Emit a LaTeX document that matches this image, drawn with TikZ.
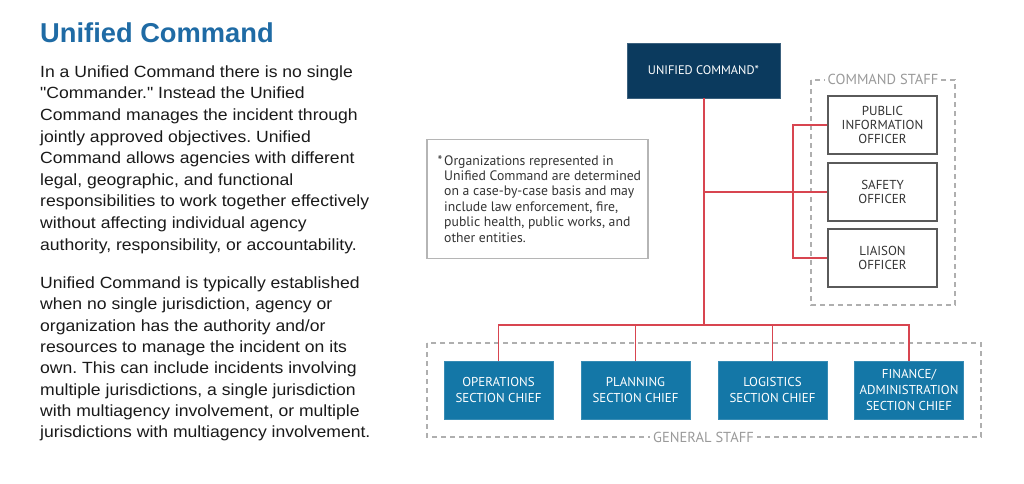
\documentclass[tikz,border=0pt]{standalone}
\usepackage{fontspec}
\setmainfont{Liberation Sans}[Ligatures=TeXOff]
\newfontfamily\bodyfont[Ligatures=TeXOff,FakeStretch=1.085]{Liberation Sans}
\newfontfamily\diag{PT Sans}
\definecolor{titleblue}{HTML}{1F6BA5}
\definecolor{bodytext}{HTML}{1A1A1A}
\definecolor{navy}{HTML}{0B3A5E}
\definecolor{secblue}{HTML}{1477A7}
\definecolor{linkred}{HTML}{D84550}
\definecolor{dashgray}{HTML}{AFAFAF}
\definecolor{labelgray}{HTML}{9A9A9A}
\definecolor{boxgray}{HTML}{5A5A5A}
\definecolor{notegray}{HTML}{B5B5B5}
\definecolor{stafftext}{HTML}{333333}
\frenchspacing
\begin{document}
\begin{tikzpicture}[x=1pt,y=-1pt,
  bodyline/.style={anchor=base west,inner sep=0pt,text=bodytext,font=\bodyfont\fontsize{16.2}{19}\selectfont\frenchspacing},
  noteline/.style={anchor=base west,inner sep=0pt,text=stafftext,font=\diag\fontsize{13.7}{15}\selectfont},
  ucbox/.style={rectangle,fill=navy,draw=navy!80!white,minimum width=153pt,minimum height=55pt,inner sep=0pt,text=white,font=\diag\fontsize{12.4}{14}\selectfont},
  staffbox/.style={rectangle,draw=boxgray,line width=1.2pt,fill=white,minimum width=109pt,minimum height=58pt,inner sep=0pt,align=center,text=stafftext,font=\diag\fontsize{13}{14.4}\selectfont},
  secbox/.style={rectangle,fill=secblue,draw=secblue!85!white,minimum width=109pt,minimum height=58pt,inner sep=0pt,align=center,text=white,font=\diag\fontsize{12.9}{15.6}\selectfont},
  grouplabel/.style={fill=white,inner sep=3pt,text=labelgray,font=\diag\fontsize{14.5}{15}\selectfont},
  groupbox/.style={draw=dashgray,line width=1.1pt,dash pattern=on 5pt off 4pt},
  link/.style={draw=linkred,line width=1.6pt}]
\useasboundingbox (0,0) rectangle (1024,483);
\fill[white] (0,0) rectangle (1024,483);

% ---- left text ----
\node[anchor=base west,inner sep=0pt,text=titleblue,font=\bfseries\fontsize{27.3}{32}\selectfont] (title) at (40,42) {Unified Command};
\node[bodyline] (p1) at (40,77.3) {In a Unified Command there is no single};
\node[bodyline] (p2) at (40,98.9) {"Commander." Instead the Unified};
\node[bodyline] (p3) at (40,120.5) {Command manages the incident through};
\node[bodyline] (p4) at (40,142.1) {jointly approved objectives. Unified};
\node[bodyline] (p5) at (40,163.7) {Command allows agencies with different};
\node[bodyline] (p6) at (40,185.3) {legal, geographic, and functional};
\node[bodyline] (p7) at (40,206.9) {responsibilities to work together effectively};
\node[bodyline] (p8) at (40,228.5) {without affecting individual agency};
\node[bodyline] (p9) at (40,250.1) {authority, responsibility, or accountability.};
\node[bodyline] (q1) at (40,288.3) {Unified Command is typically established};
\node[bodyline] (q2) at (40,309.6) {when no single jurisdiction, agency or};
\node[bodyline] (q3) at (40,331.0) {organization has the authority and/or};
\node[bodyline] (q4) at (40,352.3) {resources to manage the incident on its};
\node[bodyline] (q5) at (40,373.7) {own. This can include incidents involving};
\node[bodyline] (q6) at (40,395.0) {multiple jurisdictions, a single jurisdiction};
\node[bodyline] (q7) at (40,416.4) {with multiagency involvement, or multiple};
\node[bodyline] (q8) at (40,437.7) {jurisdictions with multiagency involvement.};

% ---- group boxes ----
\draw[groupbox] (811,80) rectangle (955,305);
\node[grouplabel] (cslabel) at (883,79) {COMMAND STAFF};
\draw[groupbox] (427,343) rectangle (981,437);
\node[grouplabel] (gslabel) at (703.5,437) {GENERAL STAFF};

% ---- note box ----
\draw[draw=notegray,line width=1.3pt,fill=white] (427,139.5) rectangle (648,258.5);
\node[noteline] (star) at (437.5,165) {*};
\node[noteline] (n1) at (444,165) {Organizations represented in};
\node[noteline] (n2) at (444,180.4) {Unified Command are determined};
\node[noteline] (n3) at (444,195.8) {on a case-by-case basis and may};
\node[noteline] (n4) at (444,211.2) {include law enforcement, fire,};
\node[noteline] (n5) at (444,226.6) {public health, public works, and};
\node[noteline] (n6) at (444,242) {other entities.};

% ---- boxes ----
\node[ucbox] (uc) at (703.5,70.5) {UNIFIED COMMAND*};
\node[staffbox] (pio) at (882.5,125) {PUBLIC\\INFORMATION\\OFFICER};
\node[staffbox] (safety) at (882.5,192) {SAFETY\\OFFICER};
\node[staffbox] (liaison) at (882.5,258) {LIAISON\\OFFICER};
\node[secbox] (ops) at (498.5,390) {OPERATIONS\\SECTION CHIEF};
\node[secbox] (plan) at (635.5,390) {PLANNING\\SECTION CHIEF};
\node[secbox] (logi) at (772.5,390) {LOGISTICS\\SECTION CHIEF};
\node[secbox] (fin) at (909,390) {FINANCE/\\ADMINISTRATION\\SECTION CHIEF};

% ---- connectors ----
\coordinate (bus) at (704,325);
\coordinate (cmdbus) at (704,192);
\coordinate (cbtop) at (793,125);
\coordinate (cbbot) at (793,258);
\draw[link] (uc.south -| bus) -- (bus);
\draw[link] (cmdbus) -- (safety.west);
\draw[link] (pio.west) -- (cbtop) -- (cbbot) -- (liaison.west);
\draw[link] (ops.north) -- (ops.north |- bus) -- (fin.north |- bus) -- (fin.north);
\draw[link] (plan.north) -- (plan.north |- bus);
\draw[link] (logi.north) -- (logi.north |- bus);
\end{tikzpicture}
\end{document}
